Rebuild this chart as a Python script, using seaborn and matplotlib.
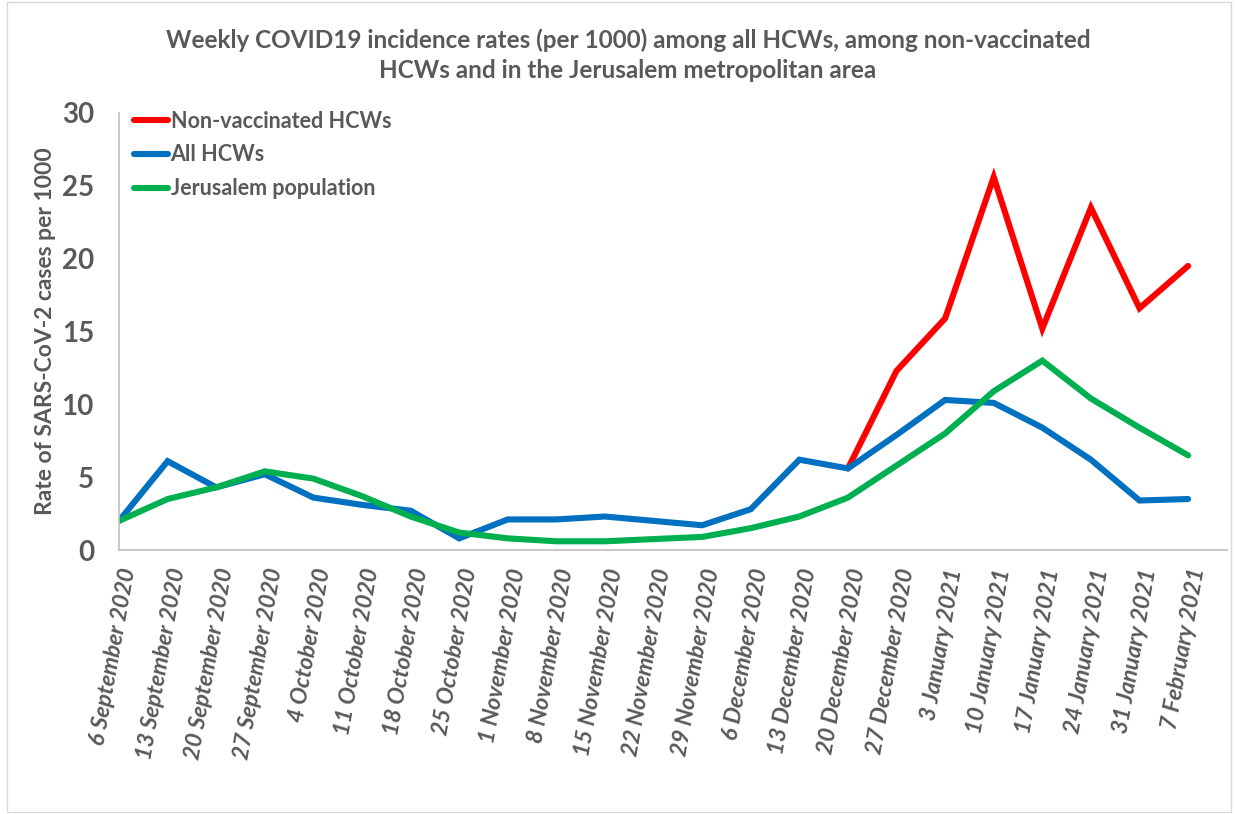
import numpy as np
import pandas as pd
import matplotlib
matplotlib.use("Agg")
import matplotlib.pyplot as plt
import seaborn as sns

# week labels (x axis)
weeks = ["6 September 2020", "13 September 2020", "20 September 2020", "27 September 2020",
         "4 October 2020", "11 October 2020", "18 October 2020", "25 October 2020",
         "1 November 2020", "8 November 2020", "15 November 2020", "22 November 2020",
         "29 November 2020", "6 December 2020", "13 December 2020", "20 December 2020",
         "27 December 2020", "3 January 2021", "10 January 2021", "17 January 2021",
         "24 January 2021", "31 January 2021", "7 February 2021"]

# rates per 1000
non_vacc = [np.nan] * 15 + [5.6, 12.3, 15.9, 25.6, 15.2, 23.5, 16.6, 19.5]
all_hcw = [2.0, 6.1, 4.3, 5.2, 3.6, 3.1, 2.7, 0.8, 2.1, 2.1, 2.3, 2.0,
           1.7, 2.8, 6.2, 5.6, 7.9, 10.3, 10.1, 8.4, 6.2, 3.4, 3.5]
jerusalem = [2.0, 3.5, 4.3, 5.4, 4.9, 3.7, 2.3, 1.2, 0.8, 0.6, 0.6, 0.75,
             0.9, 1.5, 2.3, 3.6, 5.8, 8.0, 10.9, 13.0, 10.4, 8.4, 6.5]

series_names = ["Non-vaccinated HCWs", "All HCWs", "Jerusalem population"]
colors = ["#FF0000", "#0070C0", "#00B050"]

df = pd.DataFrame({
    "idx": list(range(len(weeks))) * 3,
    "rate": non_vacc + all_hcw + jerusalem,
    "series": [s for s in series_names for _ in weeks],
})

sns.set_style("white")
plt.rcParams["font.family"] = ["Lato", "DejaVu Sans"]
gray = "#595959"

fig = plt.figure(figsize=(12.36, 8.14), dpi=100)
ax = fig.add_axes([0.0963, 0.3243, 0.8964, 0.5369])

sns.lineplot(data=df, x="idx", y="rate", hue="series", hue_order=series_names,
             palette=colors, linewidth=4.4, ax=ax, legend=True,
             solid_capstyle="round", solid_joinstyle="miter")

ax.set_xlim(0, 22.8)
ax.set_ylim(0, 30)
ax.set_yticks(range(0, 31, 5))
ax.set_yticklabels([str(v) for v in range(0, 31, 5)], fontsize=20,
                   fontweight="bold", color=gray)
ax.set_xticks(range(len(weeks)))
ax.set_xticklabels(weeks, rotation=80, ha="right", va="top", rotation_mode="anchor",
                   fontsize=16.5, fontweight="bold", fontstyle="italic", color=gray)
ax.tick_params(axis="both", length=0)
ax.tick_params(axis="y", pad=18)
ax.tick_params(axis="x", pad=12)
ax.set_xlabel("")
ax.set_ylabel("Rate of SARS-CoV-2 cases per 1000", fontsize=16.5,
              fontweight="bold", color=gray, labelpad=4)

for side in ["top", "right"]:
    ax.spines[side].set_visible(False)
for side in ["left", "bottom"]:
    ax.spines[side].set_color("#BFBFBF")
    ax.spines[side].set_linewidth(1.2)

leg = ax.legend(loc="upper left", bbox_to_anchor=(-0.004, 1.05), frameon=False,
                handlelength=1.6, handletextpad=0.1, labelspacing=0.6,
                prop={"family": "Lato", "weight": "bold", "size": 15.5})
for t in leg.get_texts():
    t.set_color(gray)

fig.text(0.508, 0.965, "Weekly COVID19 incidence rates (per 1000) among all HCWs, among non-vaccinated\n"
         "HCWs and in the Jerusalem metropolitan area",
         ha="center", va="top", fontsize=17.5, fontweight="bold", color=gray,
         linespacing=1.35)

# outer chart border
fig.patches.append(plt.Rectangle((0.006, 0.002), 0.99, 0.996, transform=fig.transFigure,
                                 fill=False, edgecolor="#D9D9D9", linewidth=1))

fig.savefig("out.png", dpi=100)
